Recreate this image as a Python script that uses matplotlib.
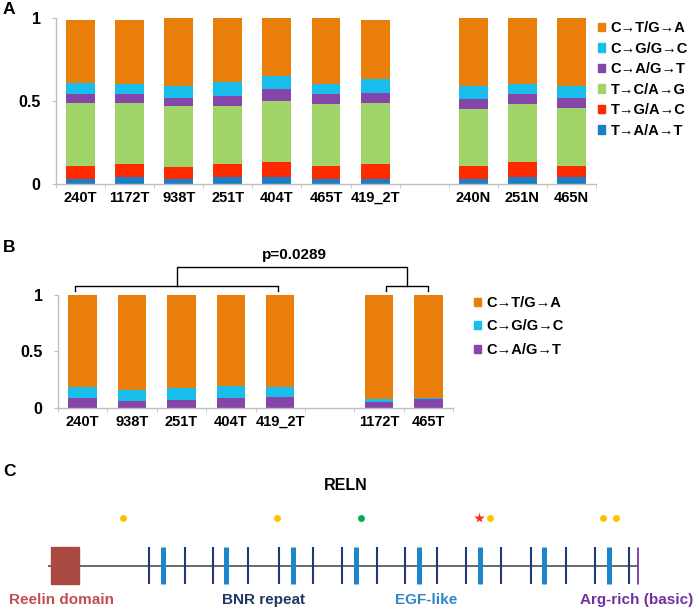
import numpy as np
import matplotlib.pyplot as plt
from matplotlib.patches import Patch, Rectangle

plt.rcParams['font.family'] = ['Liberation Sans', 'DejaVu Sans']
plt.rcParams['font.weight'] = 'bold'

# ---- panel A data: fraction of each substitution type ----
a_tumor = ["240T", "1172T", "938T", "251T", "404T", "465T", "419_2T"]
a_normal = ["240N", "251N", "465N"]
ta_at = [0.028, 0.040, 0.028, 0.040, 0.040, 0.028, 0.028, 0.028, 0.040, 0.040]
tg_ac = [0.082, 0.082, 0.072, 0.082, 0.090, 0.082, 0.094, 0.082, 0.090, 0.070]
tc_ag = [0.380, 0.368, 0.370, 0.348, 0.370, 0.370, 0.368, 0.340, 0.350, 0.350]
ca_gt = [0.050, 0.050, 0.048, 0.060, 0.070, 0.060, 0.060, 0.060, 0.060, 0.060]
cg_gc = [0.070, 0.062, 0.072, 0.082, 0.080, 0.060, 0.080, 0.080, 0.062, 0.070]
ct_ga = [0.378, 0.386, 0.410, 0.388, 0.350, 0.400, 0.358, 0.410, 0.398, 0.410]

# ---- panel B data ----
b_group1 = ["240T", "938T", "251T", "404T", "419_2T"]
b_group2 = ["1172T", "465T"]
b_ca_gt = [0.088, 0.062, 0.068, 0.088, 0.097, 0.050, 0.080]
b_cg_gc = [0.092, 0.094, 0.103, 0.102, 0.083, 0.030, 0.008]
b_ct_ga = [1 - a - b for a, b in zip(b_ca_gt, b_cg_gc)]
p_value = "p=0.0289"

# ---- panel C data: RELN protein layout (aa positions) ----
reln_length = 3460
reelin_domain = (17, 181)
bnr_pos = [592, 803, 967, 1172, 1353, 1552, 1722, 1927, 2091, 2278,
           2448, 2652, 2828, 3033, 3203, 3402]
egf_pos = [674, 1043, 1435, 1801, 2170, 2529, 2904, 3284]
arg_pos = [3460]
mut_gold = [442, 1340, 2590, 3248, 3326]
mut_green = [1833]
mut_star = [2525]

labels = ["C→T/G→A", "C→G/G→C", "C→A/G→T", "T→C/A→G", "T→G/A→C", "T→A/A→T"]
colors = ["#E97F0A", "#18BDEC", "#8645A8", "#A0D468", "#FF2A00", "#1B7FC7"]

W, H = 695, 609
fig = plt.figure(figsize=(W / 100, H / 100), dpi=100)
grey = "#BFBFBF"


def style_axes(ax, pos, names, n_slots):
    ax.set_xlim(-0.5, n_slots - 0.5)
    ax.set_ylim(0, 1)
    for s in ["top", "right"]:
        ax.spines[s].set_visible(False)
    for s in ["left", "bottom"]:
        ax.spines[s].set_color(grey)
        ax.spines[s].set_linewidth(1)
    ax.set_yticks([0, 0.5, 1])
    ax.set_yticklabels(["0", "0.5", "1"])
    ax.tick_params(axis="y", length=3, color=grey, pad=8, labelsize=11.5)
    ax.set_xticks(pos)
    ax.set_xticklabels(names)
    ax.set_xticks(np.arange(-0.5, n_slots, 1), minor=True)
    ax.tick_params(axis="x", which="major", length=0, pad=5, labelsize=10.5)
    ax.tick_params(axis="x", which="minor", length=3, color=grey)


# ---- panel A ----
axA = fig.add_axes([56 / W, 1 - 184 / H, 540 / W, 166 / H])
posA = list(range(len(a_tumor))) + [len(a_tumor) + 1 + i for i in range(len(a_normal))]
bottom = np.zeros(len(posA))
series = [ta_at, tg_ac, tc_ag, ca_gt, cg_gc, ct_ga]
for vals, col in zip(series, colors[::-1]):
    axA.bar(posA, vals, 0.59, bottom=bottom, color=col)
    bottom += np.array(vals)
style_axes(axA, posA, a_tumor + a_normal, len(posA) + 1)
axA.legend([Patch(color=c) for c in colors], labels,
           loc="upper left", bbox_to_anchor=(598 / W, 1 - 21 / H),
           bbox_transform=fig.transFigure, frameon=False, fontsize=10.5,
           handlelength=0.5, handleheight=0.5, handletextpad=0.35,
           labelspacing=0.45, borderpad=0, borderaxespad=0)

# ---- panel B ----
axB = fig.add_axes([58 / W, 1 - 407.7 / H, 395 / W, 113 / H])
posB = list(range(len(b_group1))) + [len(b_group1) + 1 + i for i in range(len(b_group2))]
bottom = np.zeros(len(posB))
for vals, col in zip([b_ca_gt, b_cg_gc, b_ct_ga], colors[2::-1]):
    axB.bar(posB, vals, 0.575, bottom=bottom, color=col)
    bottom += np.array(vals)
style_axes(axB, posB, b_group1 + b_group2, len(posB) + 1)
axB.legend([Patch(color=c) for c in colors[:3]], labels[:3],
           loc="upper left", bbox_to_anchor=(474 / W, 1 - 296 / H),
           bbox_transform=fig.transFigure, frameon=False, fontsize=10.5,
           handlelength=0.5, handleheight=0.5, handletextpad=0.35,
           labelspacing=0.65, borderpad=0, borderaxespad=0)

# significance brackets
kw = dict(color="black", lw=1, clip_on=False)
g1 = (posB[0] - 0.15, posB[len(b_group1) - 1] - 0.05)
g2 = (posB[len(b_group1)] + 0.15, posB[-1])
for lo, hi in [g1, g2]:
    axB.plot([lo, lo, hi, hi], [1.03, 1.075, 1.075, 1.03], **kw)
m1, m2 = sum(g1) / 2, sum(g2) / 2
axB.plot([m1, m1, m2, m2], [1.075, 1.245, 1.245, 1.075], **kw)
axB.text((m1 + m2) / 2 + 0.05, 1.35, p_value, ha="center", va="center",
         fontsize=11, clip_on=False)

# ---- panel C ----
axC = fig.add_axes([48 / W, 0, 591 / W, 149 / H])
axC.set_xlim(1, reln_length)
axC.set_ylim(-1.17, 2.86)
axC.axis("off")
axC.hlines(0, 1, reln_length, color="#404040", lw=1.1, zorder=1)
axC.add_patch(Rectangle((reelin_domain[0], -0.5), reelin_domain[1] - reelin_domain[0], 1,
                        color="#A94A43", zorder=2))
axC.vlines(bnr_pos, -0.5, 0.5, color="#1F3A76", lw=1.5, zorder=2)
axC.vlines(egf_pos, -0.5, 0.5, color="#1D86CB", lw=3.6, zorder=2)
axC.vlines(arg_pos, -0.5, 0.5, color="#8546B0", lw=3.6, zorder=2)
axC.plot(mut_gold, [1.28] * len(mut_gold), "o", color="#FFC000", ms=5, mec="none")
axC.plot(mut_green, [1.28] * len(mut_green), "o", color="#00B050", ms=5, mec="none")
axC.plot(mut_star, [1.28] * len(mut_star), "*", color="#FF2A1A", ms=8, mec="none")
axC.text(1742, 2.16, "RELN", ha="center", va="center", fontsize=11.5)
for x, txt, col in [(81, "Reelin domain", "#C0504D"), (1265, "BNR repeat", "#1F3864"),
                    (2213, "EGF-like", "#2E86C8"), (3445, "Arg-rich (basic)", "#7030A0")]:
    axC.text(x, -0.93, txt, ha="center", va="center", fontsize=11, color=col,
             clip_on=False)

for y, letter in [(10, "A"), (248, "B"), (472, "C")]:
    fig.text(3 / W, 1 - y / H, letter, fontsize=12.5, ha="left", va="center")

fig.savefig("out.png", dpi=100)
